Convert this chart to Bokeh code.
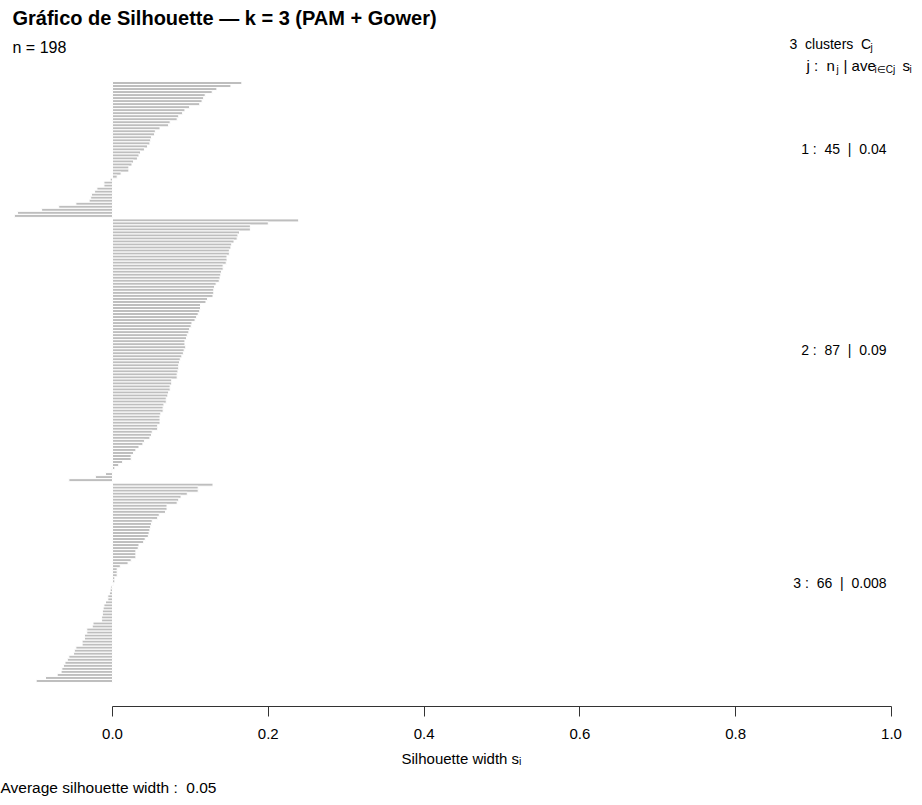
from bokeh.plotting import figure
from bokeh.models import Range1d, FixedTicker, ColumnDataSource, CustomJSTickFormatter, Title
from bokeh.embed import file_html
from bokeh.resources import INLINE
from bokeh.core.properties import value

# ---------------- data ----------------
cluster1 = [0.166, 0.152, 0.134, 0.128, 0.119, 0.117, 0.115, 0.112, 0.099, 0.093,
            0.090, 0.085, 0.083, 0.074, 0.072, 0.061, 0.055, 0.054, 0.050, 0.049,
            0.048, 0.045, 0.041, 0.036, 0.034, 0.032, 0.027, 0.025, 0.021, 0.021,
            0.011, 0.006, -0.003, -0.011, -0.011, -0.020, -0.023, -0.027, -0.028, -0.030,
            -0.047, -0.069, -0.091, -0.122, -0.126]
cluster2 = [0.239, 0.200, 0.177, 0.177, 0.163, 0.161, 0.160, 0.156, 0.153, 0.152,
            0.150, 0.150, 0.147, 0.147, 0.146, 0.142, 0.142, 0.140, 0.139, 0.138,
            0.137, 0.133, 0.131, 0.130, 0.130, 0.129, 0.122, 0.120, 0.113, 0.113,
            0.112, 0.110, 0.108, 0.106, 0.102, 0.101, 0.099, 0.098, 0.096, 0.095,
            0.093, 0.093, 0.094, 0.092, 0.091, 0.089, 0.087, 0.086, 0.085, 0.085,
            0.084, 0.083, 0.083, 0.076, 0.076, 0.074, 0.074, 0.072, 0.071, 0.069,
            0.069, 0.066, 0.065, 0.065, 0.062, 0.061, 0.061, 0.061, 0.058, 0.058,
            0.051, 0.050, 0.048, 0.041, 0.039, 0.034, 0.030, 0.027, 0.024, 0.024,
            0.013, 0.008, 0.003, -0.001, -0.009, -0.022, -0.056]
cluster3 = [0.129, 0.110, 0.110, 0.096, 0.088, 0.085, 0.083, 0.070, 0.070, 0.068,
            0.060, 0.058, 0.051, 0.050, 0.049, 0.048, 0.047, 0.046, 0.042, 0.040,
            0.034, 0.033, 0.030, 0.030, 0.030, 0.024, 0.020, 0.010, 0.006, 0.006,
            0.006, 0.003, 0.003, 0.001, -0.002, -0.003, -0.004, -0.006, -0.006, -0.009,
            -0.011, -0.012, -0.013, -0.013, -0.014, -0.014, -0.025, -0.026, -0.033, -0.033,
            -0.036, -0.036, -0.039, -0.039, -0.047, -0.049, -0.050, -0.056, -0.058, -0.061,
            -0.063, -0.065, -0.066, -0.071, -0.086, -0.098]
cluster_ids = ["1", "2", "3"]
cluster_sizes = ["45", "87", "66"]
cluster_avgs = ["0.04", "0.09", "0.008"]
tick_values = [0.0, 0.2, 0.4, 0.6, 0.8, 1.0]
tick_labels = ["0.0", "0.2", "0.4", "0.6", "0.8", "1.0"]
title_text = "Gráfico de Silhouette — k = 3 (PAM + Gower)"
n_text = "n = 198"
k_text = "3"
avg_value = "0.05"

NB = "\u00a0"

# ---------------- layout ----------------
W, H = 922, 805
FRAME_H = 706
ZERO_PX, UNIT_PX = 112, 779.0
ROW_PX, ROW0_PX = 3.02, 81.0
GAP = 0.5

xs = -ZERO_PX / UNIT_PX
xe = (W - ZERO_PX) / UNIT_PX
ytop = -ROW0_PX / ROW_PX
ybot = (FRAME_H - ROW0_PX) / ROW_PX

def dx(px):
    return (px - ZERO_PX) / UNIT_PX

def dy(py):
    return (py - ROW0_PX) / ROW_PX

ys, vals, mids = [], [], []
start = 0.0
for c in (cluster1, cluster2, cluster3):
    for i, v in enumerate(c):
        ys.append(start + i + 0.5)
        vals.append(v)
    mids.append(start + len(c) / 2.0)
    start += len(c) + GAP

src = ColumnDataSource(dict(y=ys, right=vals))

p = figure(width=W, height=H, x_range=Range1d(xs, xe), y_range=Range1d(ybot, ytop),
           output_backend="svg", toolbar_location=None,
           min_border_left=0, min_border_right=0, min_border_top=0, min_border_bottom=H - FRAME_H)
p.outline_line_color = None
p.xgrid.visible = False
p.ygrid.visible = False
p.yaxis.visible = False
p.background_fill_color = "white"
p.border_fill_color = "white"

p.hbar(y="y", right="right", left=0, height=1.0, source=src,
       fill_color="#bebebe", line_color="white", line_width=1)

ax = p.xaxis[0]
ax.bounds = (0, 1)
ax.ticker = FixedTicker(ticks=tick_values)
ax.formatter = CustomJSTickFormatter(args=dict(tlabels=tick_labels, tvals=tick_values), code="""
    for (let i = 0; i < tvals.length; i++) { if (Math.abs(tick - tvals[i]) < 1e-9) return tlabels[i]; }
    return '';
""")
ax.axis_line_color = "#333333"
ax.major_tick_line_color = "#333333"
ax.major_tick_out = 10
ax.major_tick_in = 0
ax.minor_tick_out = 0
ax.minor_tick_in = 0
ax.major_label_standoff = 12
ax.major_label_text_font = "Liberation Sans"
ax.major_label_text_font_size = "15px"
ax.major_label_text_color = "black"
ax.axis_label = "Silhouette width s\u1d62"
ax.axis_label_text_font = "Liberation Sans"
ax.axis_label_text_font_size = "15px"
ax.axis_label_text_font_style = "normal"
ax.axis_label_text_color = "black"
ax.axis_label_standoff = 8

p.add_layout(Title(text=f"Average silhouette width :{NB}{NB}{avg_value}", align="left",
                   text_font="Liberation Sans", text_font_size="15.5px", text_font_style="normal",
                   text_color="black", offset=0, standoff=15), "below")

FONT = value("Liberation Sans")

def txt(px, py, s, size="16px", align="left", style="normal", xoff=0):
    p.text(x=[dx(px)], y=[dy(py)], text=[s], text_font=FONT, text_font_size=size,
           text_align=align, text_baseline="middle", text_font_style=style, text_color="black",
           x_offset=xoff)

# title + n
txt(12, 17, title_text, size="20px", style="bold")
txt(12, 47, n_text, size="16px")

# legend header
txt(789, 43, f"{k_text}{NB}{NB}clusters{NB}{NB}C", size="14px")
txt(870, 47, "j", size="10px")
txt(806, 65, f"j{NB}:{NB}{NB}n", size="15px")
txt(836, 69, "j", size="10px")
txt(843, 65, f"|{NB}ave", size="15px")
txt(874, 69, "i\u2208Cj", size="10px")
txt(902, 65, "s", size="15px")
txt(909, 69, "i", size="10px")

# cluster labels
for cid, n, a, m in zip(cluster_ids, cluster_sizes, cluster_avgs, mids):
    lab = f"{cid}{NB}:{NB}{NB}{n}{NB}{NB}|{NB}{NB}{a}"
    p.text(x=[dx(886)], y=[m], text=[lab], text_font=FONT,
           text_font_size="14px", text_align="right", text_baseline="middle", text_color="black")

open("out.html", "w").write(file_html(p, INLINE))
